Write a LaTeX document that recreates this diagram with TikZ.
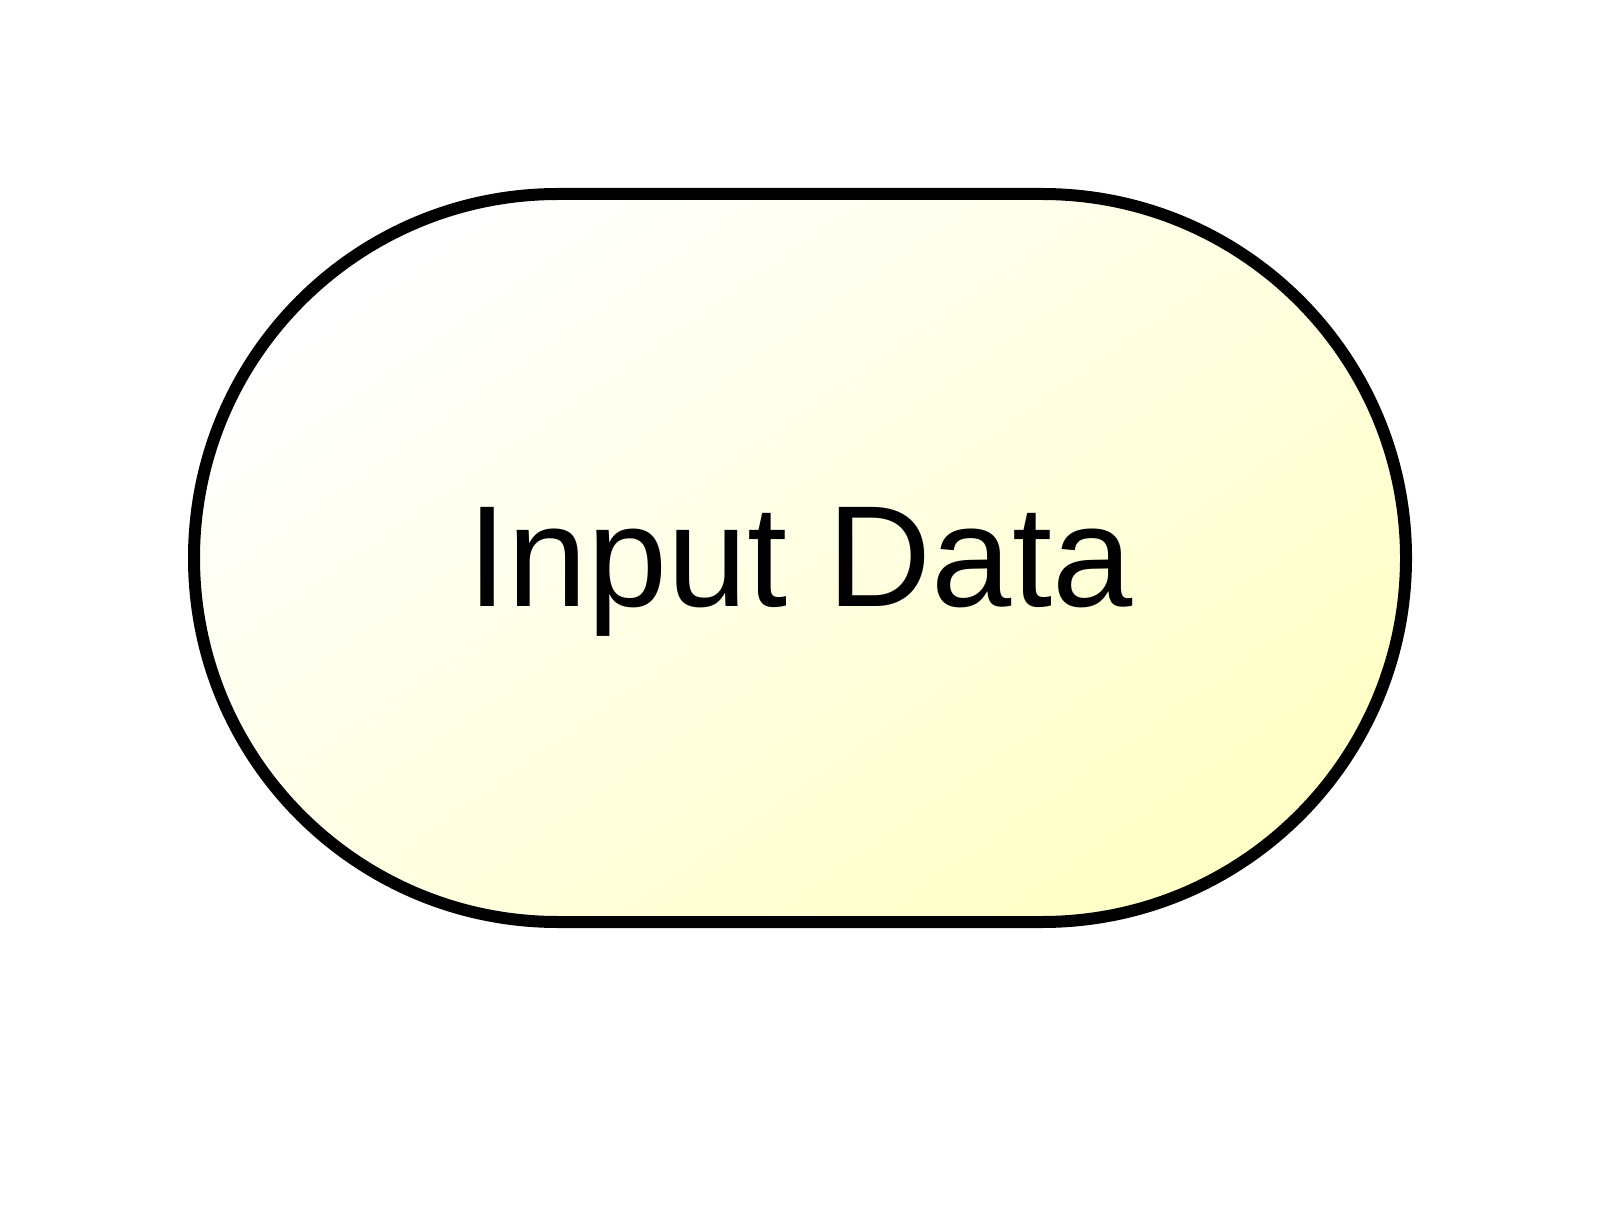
\documentclass[tikz,border=0pt]{standalone}
\usepackage{fontspec}
\setmainfont{Liberation Sans}
\usetikzlibrary{shapes.misc}

\tikzset{
  terminal/.style={rounded rectangle, draw, line width=0.12cm,
    top color=white, bottom color=yellow!22, shading angle=35,
    minimum width=12.12cm, minimum height=7.28cm, inner sep=0pt,
    font=\fontsize{41}{49}\selectfont, text height=1.2cm, text depth=0.23cm}
}

\begin{document}
\begin{tikzpicture}
			\useasboundingbox (0,0) rectangle (16,12.12);
			
			\node[terminal] (input) at (8,6.54) {Input Data};
			\end{tikzpicture}
\end{document}
